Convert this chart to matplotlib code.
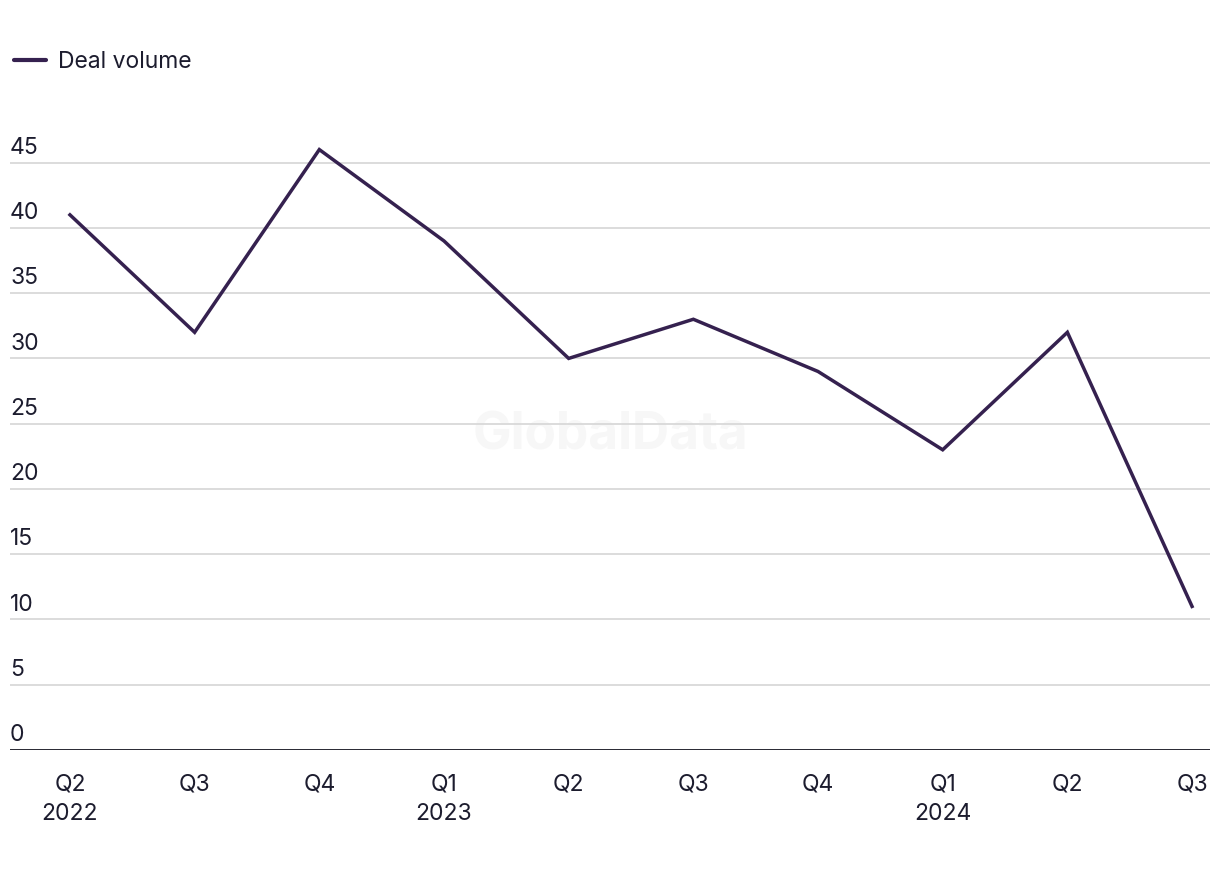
import matplotlib.pyplot as plt
from matplotlib.lines import Line2D
import matplotlib.transforms as mtransforms

plt.rcParams['font.family'] = ['Inter', 'DejaVu Sans']

quarters = ["Q2\n2022", "Q3", "Q4", "Q1\n2023", "Q2", "Q3", "Q4", "Q1\n2024", "Q2", "Q3"]
deal_volume = [41, 32, 46, 39, 30, 33, 29, 23, 32, 11]
y_ticks = [0, 5, 10, 15, 20, 25, 30, 35, 40, 45]

line_color = "#35214f"
text_color = "#1c1c2e"
grid_color = "#d9d9d9"

W, H = 1220, 872
fig = plt.figure(figsize=(W / 100, H / 100), dpi=100)
ax = fig.add_axes([10 / W, 1 - 750 / H, 1200 / W, (750 - 130) / H])

x = list(range(len(deal_volume)))
ax.plot(x, deal_volume, color=line_color, linewidth=2.5, zorder=3,
        solid_joinstyle="miter")

ax.set_xlim(-0.481, 9.144)
ax.set_ylim(0, 47.5)

# grid lines and y labels sitting above them
blend = mtransforms.blended_transform_factory(ax.transAxes, ax.transData)
for v in y_ticks:
    if v > 0:
        ax.axhline(v, color=grid_color, linewidth=1.3, zorder=1)
    ax.text(0, v + 0.3, str(v), transform=blend,
            ha="left", va="bottom", fontsize=16.5, color=text_color)
ax.axhline(0, color="#14141f", linewidth=2.0, zorder=4)

ax.set_yticks([])
ax.set_xticks(x)
ax.set_xticklabels(quarters, fontsize=16.5, color=text_color, linespacing=1.45)
ax.tick_params(axis="x", length=0, pad=17)
for s in ax.spines.values():
    s.set_visible(False)

# watermark
ax.text(0.5, 0.5, "GlobalData", transform=fig.transFigure, ha="center", va="center",
        fontsize=37, fontweight="bold", color="#f7f7f7", zorder=0)

handle = Line2D([], [], color=line_color, linewidth=3, solid_capstyle="round")
fig.legend([handle], ["Deal volume"], loc="center left", bbox_to_anchor=(-7 / W, 1 - 62 / H),
           frameon=False, fontsize=16.5, handlelength=1.4, handletextpad=0.55,
           labelcolor=text_color)

fig.savefig("out.png", dpi=100, facecolor="white")
